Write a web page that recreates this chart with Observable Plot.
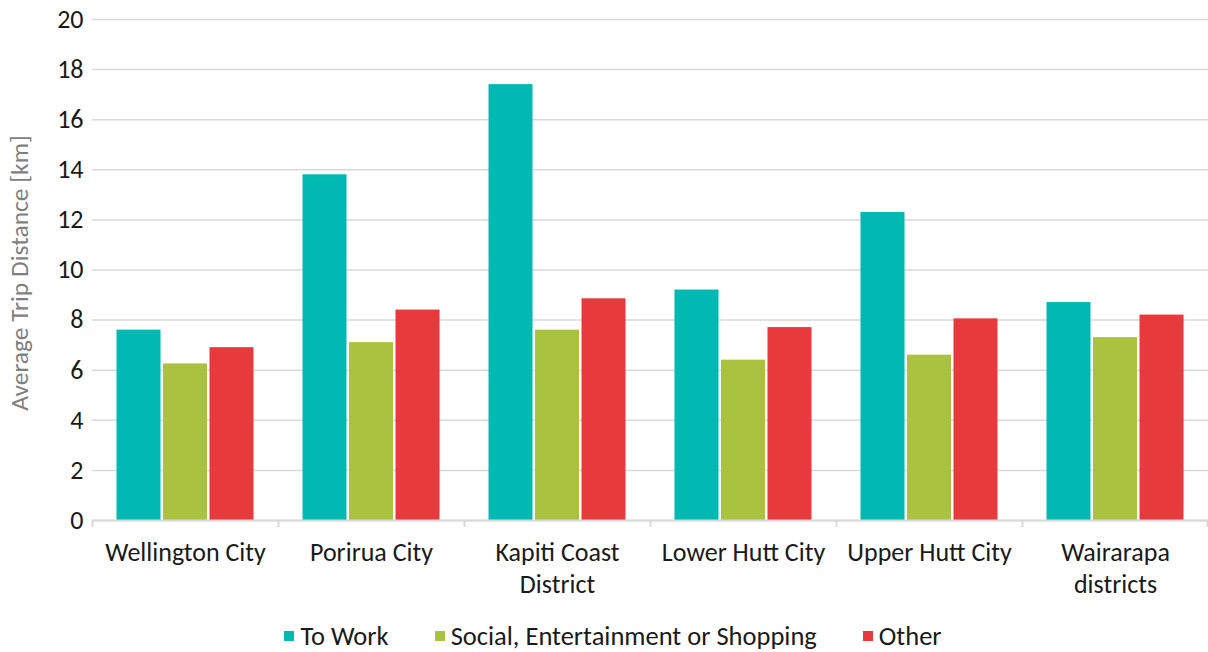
<!DOCTYPE html>
<html>
<head>
<meta charset="utf-8">
<script src="https://cdn.jsdelivr.net/npm/d3@7"></script>
<script src="https://cdn.jsdelivr.net/npm/@observablehq/plot@0.6"></script>
<style>
  body { margin: 0; background: #fff; font-family: Carlito, Calibri, Lato, sans-serif; }
  #chart svg { display: block; }
  .legend { display: flex; justify-content: center; align-items: center; gap: 46px; font-size: 26.5px; color: #1a1a1a; height: 48px; margin-left: 18px; }
  .legend span.item { display: flex; align-items: center; }
  .legend i { display: inline-block; width: 10px; height: 10px; margin-right: 6px; }
</style>
</head>
<body>
<div id="chart"></div>
<script>
const categories = ["Wellington City", "Porirua City", "Kapiti Coast\nDistrict", "Lower Hutt City", "Upper Hutt City", "Wairarapa\ndistricts"];
const seriesNames = ["To Work", "Social, Entertainment or Shopping", "Other"];
const seriesColors = ["#00B9B2", "#A9C23F", "#E8393D"];
const toWork = [7.6, 13.8, 17.4, 9.2, 12.3, 8.7];
const social = [6.25, 7.1, 7.6, 6.4, 6.6, 7.3];
const other = [6.9, 8.4, 8.85, 7.7, 8.05, 8.2];
const yTicks = [0, 2, 4, 6, 8, 10, 12, 14, 16, 18, 20];
const yLabel = "Average Trip Distance [km]";

const seriesValues = [toWork, social, other];
const rows = seriesValues.map((vals, s) => categories.map((c, i) => ({category: c, series: seriesNames[s], value: vals[i]})));

const width = 1208;
const marginLeft = 92, marginRight = 0;
const band = (width - marginLeft - marginRight) / categories.length;
const barW = 44, pitch = 46.5;
const inset = (band - barW) / 2;
const offsets = [-pitch, 0, pitch];

const font = "Carlito, Calibri, Lato, sans-serif";

const chart = Plot.plot({
  width,
  height: 612,
  marginTop: 19,
  marginLeft,
  marginRight,
  marginBottom: 92,
  style: {fontFamily: font, background: "#fff"},
  x: {domain: categories, padding: 0},
  y: {domain: [0, 20]},
  color: {domain: seriesNames, range: seriesColors},
  marks: [
    Plot.gridY(yTicks, {stroke: "#d9d9d9", strokeOpacity: 1, strokeWidth: 1.5}),
    ...rows.map((r, s) => Plot.barY(r, {
      x: "category", y: "value", fill: "series",
      insetLeft: inset, insetRight: inset, dx: offsets[s]
    })),
    Plot.ruleY([0], {stroke: "#d9d9d9", strokeWidth: 2}),
    Plot.ruleX(categories, {x: d => d, dx: -band / 2, y1: 0, y2: -0.28, stroke: "#d9d9d9", strokeWidth: 2}),
    Plot.ruleX(categories.slice(-1), {x: d => d, dx: band / 2 - 1, y1: 0, y2: -0.28, stroke: "#d9d9d9", strokeWidth: 2}),
    Plot.axisY(yTicks, {tickSize: 0, tickPadding: 9, fontSize: 26, fill: "#1a1a1a", label: null}),
    Plot.text([yLabel], {text: d => d, frameAnchor: "left", textAnchor: "middle", rotate: -90, dx: -73, dy: 3, fontSize: 25.5, fill: "#7f7f7f"}),
    Plot.axisX({tickSize: 0, tickPadding: 18, fontSize: 26, fill: "#1a1a1a", lineHeight: 1.22, label: null})
  ]
});

document.getElementById("chart").appendChild(chart);

const legend = document.createElement("div");
legend.className = "legend";
seriesNames.forEach((name, i) => {
  const item = document.createElement("span");
  item.className = "item";
  const sw = document.createElement("i");
  sw.style.background = seriesColors[i];
  item.appendChild(sw);
  item.appendChild(document.createTextNode(name));
  legend.appendChild(item);
});
document.body.appendChild(legend);
</script>
</body>
</html>
